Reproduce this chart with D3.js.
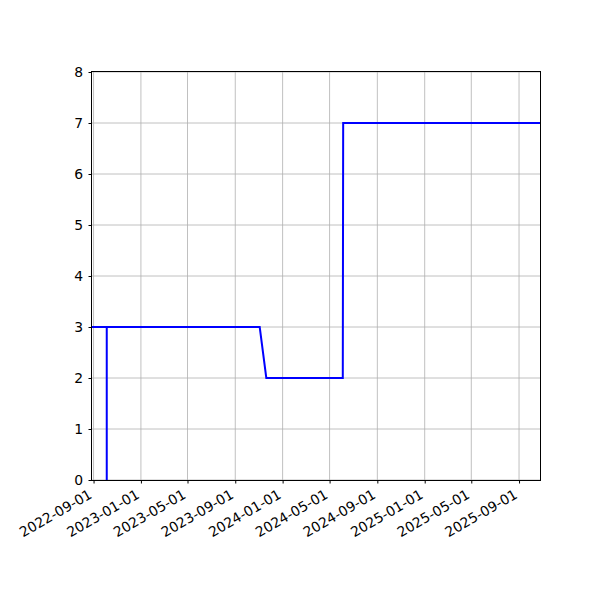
<!DOCTYPE html>
<html lang="en">
<head>
<meta charset="UTF-8">
<title>Step line</title>
<script src="https://cdn.jsdelivr.net/npm/d3@7"></script>
<style>
  body { margin: 0; background: #fff; }
  text { font-family: "DejaVu Sans", sans-serif; }
</style>
</head>
<body>
<div id="chart"></div>
<script>
// data
var dates = ["2022-08-28", "2022-10-05", "2022-10-05", "2022-10-05", "2023-11-03",
             "2023-11-20", "2024-06-04", "2024-06-05", "2025-10-25"];
var values = [3, 3, 0, 3, 3, 2, 2, 7, 7];
var xTickLabels = ["2022-09-01", "2023-01-01", "2023-05-01", "2023-09-01", "2024-01-01",
                   "2024-05-01", "2024-09-01", "2025-01-01", "2025-05-01", "2025-09-01"];
var yTicks = [0, 1, 2, 3, 4, 5, 6, 7, 8];

var w = 600, h = 600;
var plotLeft = 92, plotRight = 540, plotTop = 72, plotBottom = 480;

var parse = d3.utcParse("%Y-%m-%d");
var points = dates.map(function(d, i) { return { t: parse(d), v: values[i] }; });

var svg = d3.select("#chart").append("svg")
  .attr("width", w)
  .attr("height", h);

svg.append("rect").attr("width", w).attr("height", h).attr("fill", "#fff");

var x = d3.scaleUtc()
  .domain(d3.extent(points, function(d) { return d.t; }))
  .range([plotLeft, plotRight]);

var y = d3.scaleLinear()
  .domain([0, 8])
  .range([plotBottom, plotTop]);

var xTicks = xTickLabels.map(parse);

// grid
svg.append("g").selectAll("line")
  .data(xTicks)
  .enter().append("line")
  .attr("x1", function(d) { return x(d); })
  .attr("x2", function(d) { return x(d); })
  .attr("y1", plotTop).attr("y2", plotBottom)
  .attr("stroke", "#b0b0b0").attr("stroke-width", 0.8);

svg.append("g").selectAll("line")
  .data(yTicks)
  .enter().append("line")
  .attr("x1", plotLeft).attr("x2", plotRight)
  .attr("y1", function(d) { return y(d); })
  .attr("y2", function(d) { return y(d); })
  .attr("stroke", "#b0b0b0").attr("stroke-width", 0.8);

// the line
var line = d3.line()
  .x(function(d) { return x(d.t); })
  .y(function(d) { return y(d.v); });

svg.append("path")
  .datum(points)
  .attr("d", line)
  .attr("fill", "none")
  .attr("stroke", "#0000ff")
  .attr("stroke-width", 2);

// axes
var xAxis = d3.axisBottom(x)
  .tickValues(xTicks)
  .tickFormat(d3.utcFormat("%Y-%m-%d"))
  .tickSizeInner(3.5).tickSizeOuter(0).tickPadding(3.5);

var gx = svg.append("g")
  .attr("transform", "translate(0," + plotBottom + ")")
  .call(xAxis);

gx.selectAll("text")
  .attr("text-anchor", "end")
  .attr("x", 0).attr("y", 0).attr("dy", "0.35em")
  .attr("transform", "translate(-3.5,13) rotate(-30)");

var yAxis = d3.axisLeft(y)
  .tickValues(yTicks)
  .tickFormat(d3.format("d"))
  .tickSizeInner(3.5).tickSizeOuter(0).tickPadding(5.5);

svg.append("g")
  .attr("transform", "translate(" + plotLeft + ",0)")
  .call(yAxis);

svg.selectAll(".tick text")
  .attr("font-size", "13.9px")
  .attr("font-family", "DejaVu Sans, sans-serif")
  .attr("fill", "#000");
svg.selectAll(".tick line").attr("stroke", "#000").attr("stroke-width", 1);
svg.selectAll(".domain").remove();

// frame
svg.append("rect")
  .attr("x", plotLeft - 0.5).attr("y", plotTop - 0.5)
  .attr("width", plotRight - plotLeft + 1).attr("height", plotBottom - plotTop + 1)
  .attr("fill", "none")
  .attr("stroke", "#000")
  .attr("stroke-width", 1);
</script>
</body>
</html>
